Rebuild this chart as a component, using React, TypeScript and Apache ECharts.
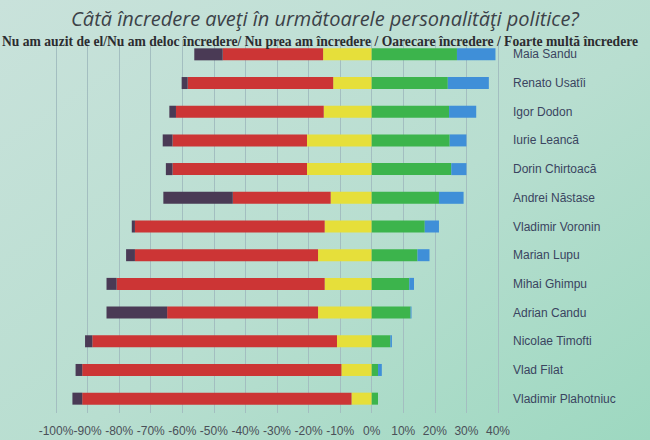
import React, { useEffect, useRef } from "react";
import * as echarts from "echarts";

const names = [
  "Maia Sandu",
  "Renato Usatîi",
  "Igor Dodon",
  "Iurie Leancă",
  "Dorin Chirtoacă",
  "Andrei Năstase",
  "Vladimir Voronin",
  "Marian Lupu",
  "Mihai Ghimpu",
  "Adrian Candu",
  "Nicolae Timofti",
  "Vlad Filat",
  "Vladimir Plahotniuc",
];
const neAuzit = [9.0, 1.9, 2.1, 3.1, 2.1, 22.0, 1.0, 2.8, 3.2, 19.2, 2.3, 2.1, 3.1];
const deloc = [31.8, 46.1, 46.8, 42.6, 42.6, 31.0, 60.1, 58.0, 65.9, 47.8, 77.5, 82.1, 85.3];
const nuPrea = [15.4, 12.2, 15.2, 20.5, 20.5, 13.0, 14.9, 17.0, 14.9, 17.0, 11.0, 9.6, 6.4];
const oarecare = [27.0, 24.1, 24.5, 24.7, 25.2, 21.3, 16.8, 14.5, 11.9, 12.3, 5.9, 2.0, 2.0];
const foarte = [12.2, 13.0, 8.6, 5.3, 4.8, 7.8, 4.5, 3.8, 1.5, 0.3, 0.5, 1.2, 0];
const seriesNames = [
  "Nu am auzit de el",
  "Nu am deloc încredere",
  "Nu prea am încredere",
  "Oarecare încredere",
  "Foarte multă încredere",
];
const title = "Câtă încredere aveţi în următoarele personalităţi politice?";
const header =
  "Nu am auzit de el/Nu am deloc încredere/ Nu prea am încredere / Oarecare încredere / Foarte multă încredere";

export default function App() {
  const ref = useRef<HTMLDivElement>(null);
  useEffect(() => {
    if (!ref.current) return;
    const chart = echarts.init(ref.current, null, { renderer: "svg" });
    const neg = (a: number[]) => a.map((v) => -v);
    const mk = (name: string, data: number[], color: string) => ({
      name,
      type: "bar",
      stack: "total",
      barWidth: 12,
      data,
      itemStyle: { color },
    });
    chart.setOption({
      animation: false,
      backgroundColor: {
        type: "linear",
        x: 0,
        y: 0,
        x2: 1,
        y2: 1,
        colorStops: [
          { offset: 0, color: "#c9e2db" },
          { offset: 0.55, color: "#b8ded0" },
          { offset: 1, color: "#9dd8c0" },
        ],
      },
      title: {
        text: title,
        left: 320,
        textAlign: "center",
        top: 3,
        textStyle: {
          fontFamily: "Open Sans",
          fontStyle: "italic",
          fontWeight: "normal",
          fontSize: 20,
          color: "#3c4248",
        },
      },
      graphic: [
        {
          type: "text",
          left: 2,
          top: 34,
          style: {
            text: header,
            font: "bold 13.6px 'Liberation Serif'",
            fill: "#2c2c30",
          },
          z: 10,
        },
      ],
      grid: { left: 56, right: 152, top: 40, bottom: 27 },
      xAxis: {
        type: "value",
        min: -100,
        max: 40,
        interval: 10,
        axisLine: { show: false },
        axisTick: { show: false },
        splitLine: { show: true, lineStyle: { color: "#a3bec0", width: 1 } },
        axisLabel: {
          formatter: (v: number) => v + "%",
          color: "#4a5058",
          fontFamily: "Liberation Sans",
          fontSize: 12,
          margin: 12,
        },
      },
      yAxis: {
        type: "category",
        data: names,
        inverse: true,
        position: "right",
        axisLine: { show: false },
        axisTick: { show: false },
        splitLine: { show: false },
        axisLabel: {
          color: "#3a4460",
          fontFamily: "Liberation Sans",
          fontSize: 12,
          margin: 15,
        },
      },
      series: [
        mk(seriesNames[2], neg(nuPrea), "#e6df3a"),
        mk(seriesNames[1], neg(deloc), "#cc3535"),
        mk(seriesNames[0], neg(neAuzit), "#4a3a55"),
        mk(seriesNames[3], oarecare, "#3cb44c"),
        mk(seriesNames[4], foarte, "#3f8fd8"),
      ],
    });
    return () => chart.dispose();
  }, []);
  return (
    <div
      ref={ref}
      style={{ position: "fixed", left: 0, top: 0, width: 650, height: 440 }}
    />
  );
}
